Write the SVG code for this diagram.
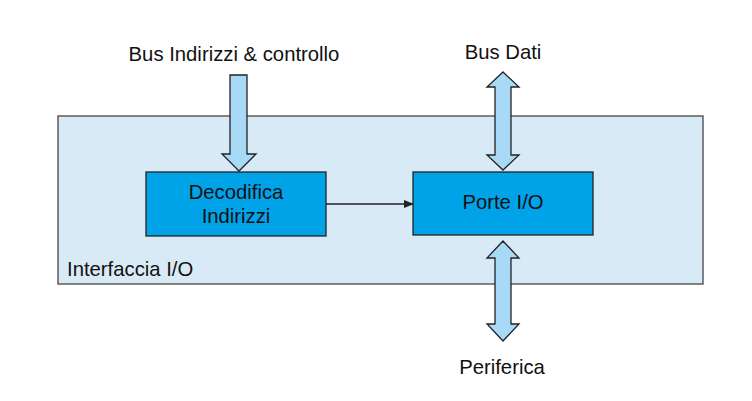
<svg xmlns="http://www.w3.org/2000/svg" width="752" height="401" viewBox="0 0 752 401">
<style>
text{font-family:"Liberation Sans",Arial,sans-serif;font-size:20.3px;fill:#111}
.node{fill:#00a2e8;stroke:#222;stroke-width:1.3}
.arr{fill:#a8daf8;stroke:#222;stroke-width:1.3;stroke-linejoin:miter}
</style>
<defs>
<marker id="ah" markerWidth="10" markerHeight="8" refX="9" refY="4" orient="auto" markerUnits="userSpaceOnUse">
<path d="M0,0 L10,4 L0,8 Z" fill="#222"/>
</marker>
</defs>
<rect width="752" height="401" fill="#fff"/>
<g id="interfaccia">
<rect x="58" y="116" width="645" height="168" fill="#d9eaf7" stroke="#444" stroke-width="1.3"/>
<text x="67" y="276">Interfaccia I/O</text>
</g>
<g id="decodifica">
<rect class="node" x="146" y="172" width="180" height="64"/>
<text x="236" y="199" text-anchor="middle">Decodifica</text>
<text x="236" y="223" text-anchor="middle">Indirizzi</text>
</g>
<g id="porte">
<rect class="node" x="413" y="172" width="180" height="63"/>
<text x="503" y="209" text-anchor="middle">Porte I/O</text>
</g>
<g id="labels">
<text x="234" y="61" text-anchor="middle">Bus Indirizzi &amp; controllo</text>
<text x="503" y="59" text-anchor="middle">Bus Dati</text>
<text x="502" y="374" text-anchor="middle">Periferica</text>
</g>
<g id="connectors">
<path class="arr" d="M230,75 L247,75 L247,154 L256,154 L239,171 L222,154 L230,154 Z"/>
<path class="arr" d="M503,72 L519,87 L511,87 L511,155 L519,155 L503,170 L487,155 L495,155 L495,87 L487,87 Z"/>
<path class="arr" d="M503,241 L519,258 L511,258 L511,324 L519,324 L503,341 L487,324 L495,324 L495,258 L487,258 Z"/>
<line x1="326" y1="204" x2="413" y2="204" stroke="#222" stroke-width="1.3" marker-end="url(#ah)"/>
</g>
</svg>
